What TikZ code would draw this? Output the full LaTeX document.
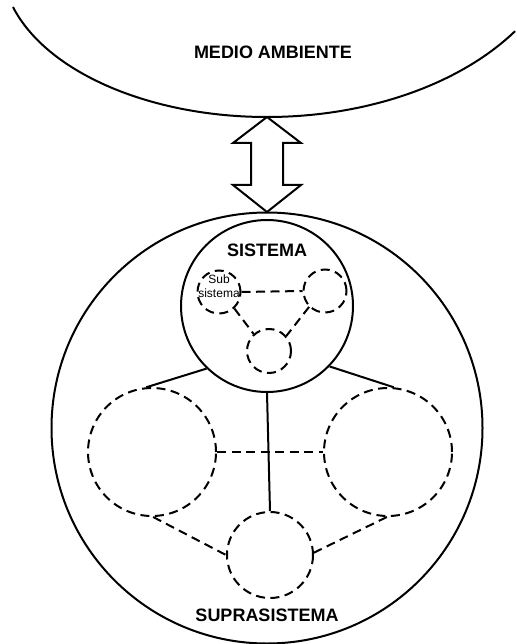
\documentclass[tikz,border=0pt]{standalone}
\usepackage{fontspec}
\setmainfont{Liberation Sans}
\begin{document}
\begin{tikzpicture}[x=1pt,y=-1pt,
  solid line/.style={line width=2pt},
  dash line/.style={line width=2pt, dash pattern=on 9pt off 5.5pt},
  subsys/.style={circle, draw, dash line, inner sep=0pt},
  label/.style={font=\fontsize{18}{20}\selectfont\bfseries, inner sep=0pt},
  small/.style={font=\fontsize{12}{14}\selectfont, inner sep=0pt, align=center}]
\useasboundingbox (0,0) rectangle (516,644);

% environment boundary: lower part of a wide ellipse
\draw[solid line] (13,7) arc[start angle=163.4, end angle=90, x radius=265, y radius=154]
  arc[start angle=90, end angle=34.2, x radius=300, y radius=196];
\node[label] (env) at (273,52) {MEDIO AMBIENTE};

% exchange with the environment
\draw[solid line, line join=miter] (267,117) -- (233,143) -- (251,143) -- (251,185) -- (233,185)
  -- (267,212) -- (301,185) -- (283,185) -- (283,143) -- (301,143) -- cycle;

% suprasystem and system
\node[circle, draw, solid line, minimum size=431pt, inner sep=0pt] (supra) at (267,428) {};
\node[circle, draw, solid line, minimum size=172pt, inner sep=0pt] (sys) at (267,306) {};
\node[label] (systxt) at (267,250) {SISTEMA};
\node[label] (supratxt) at (267,615) {SUPRASISTEMA};

% subsystems inside the system
\node[subsys, minimum size=43pt] (ssL) at (219,292) {};
\node[subsys, minimum size=43pt] (ssR) at (325,291) {};
\node[subsys, minimum size=44pt] (ssB) at (269,351) {};
\node[small] (sstxt) at (219,286) {Sub\\sistema};
\draw[dash line] (ssL.east) -- (ssR.west);
\draw[dash line] (ssL.-47) -- (ssB.132);
\draw[dash line] (ssR.-135) -- (ssB.41);

% other systems of the suprasystem
\node[subsys, minimum size=128pt] (bigL) at (152,452) {};
\node[subsys, minimum size=128pt] (bigR) at (388,452) {};
\node[subsys, minimum size=86pt] (bigB) at (270,555) {};
\draw[solid line] (sys.-134) -- (bigL.95);
\draw[solid line] (sys.-44) -- (bigR.85);
\draw[solid line] (sys.south) -- (bigB.north);
\draw[dash line] (bigL.east) -- (bigR.west);
\draw[dash line] (bigL.-89) -- (bigB.180);
\draw[dash line] (bigR.-91) -- (bigB.3);
\end{tikzpicture}
\end{document}
